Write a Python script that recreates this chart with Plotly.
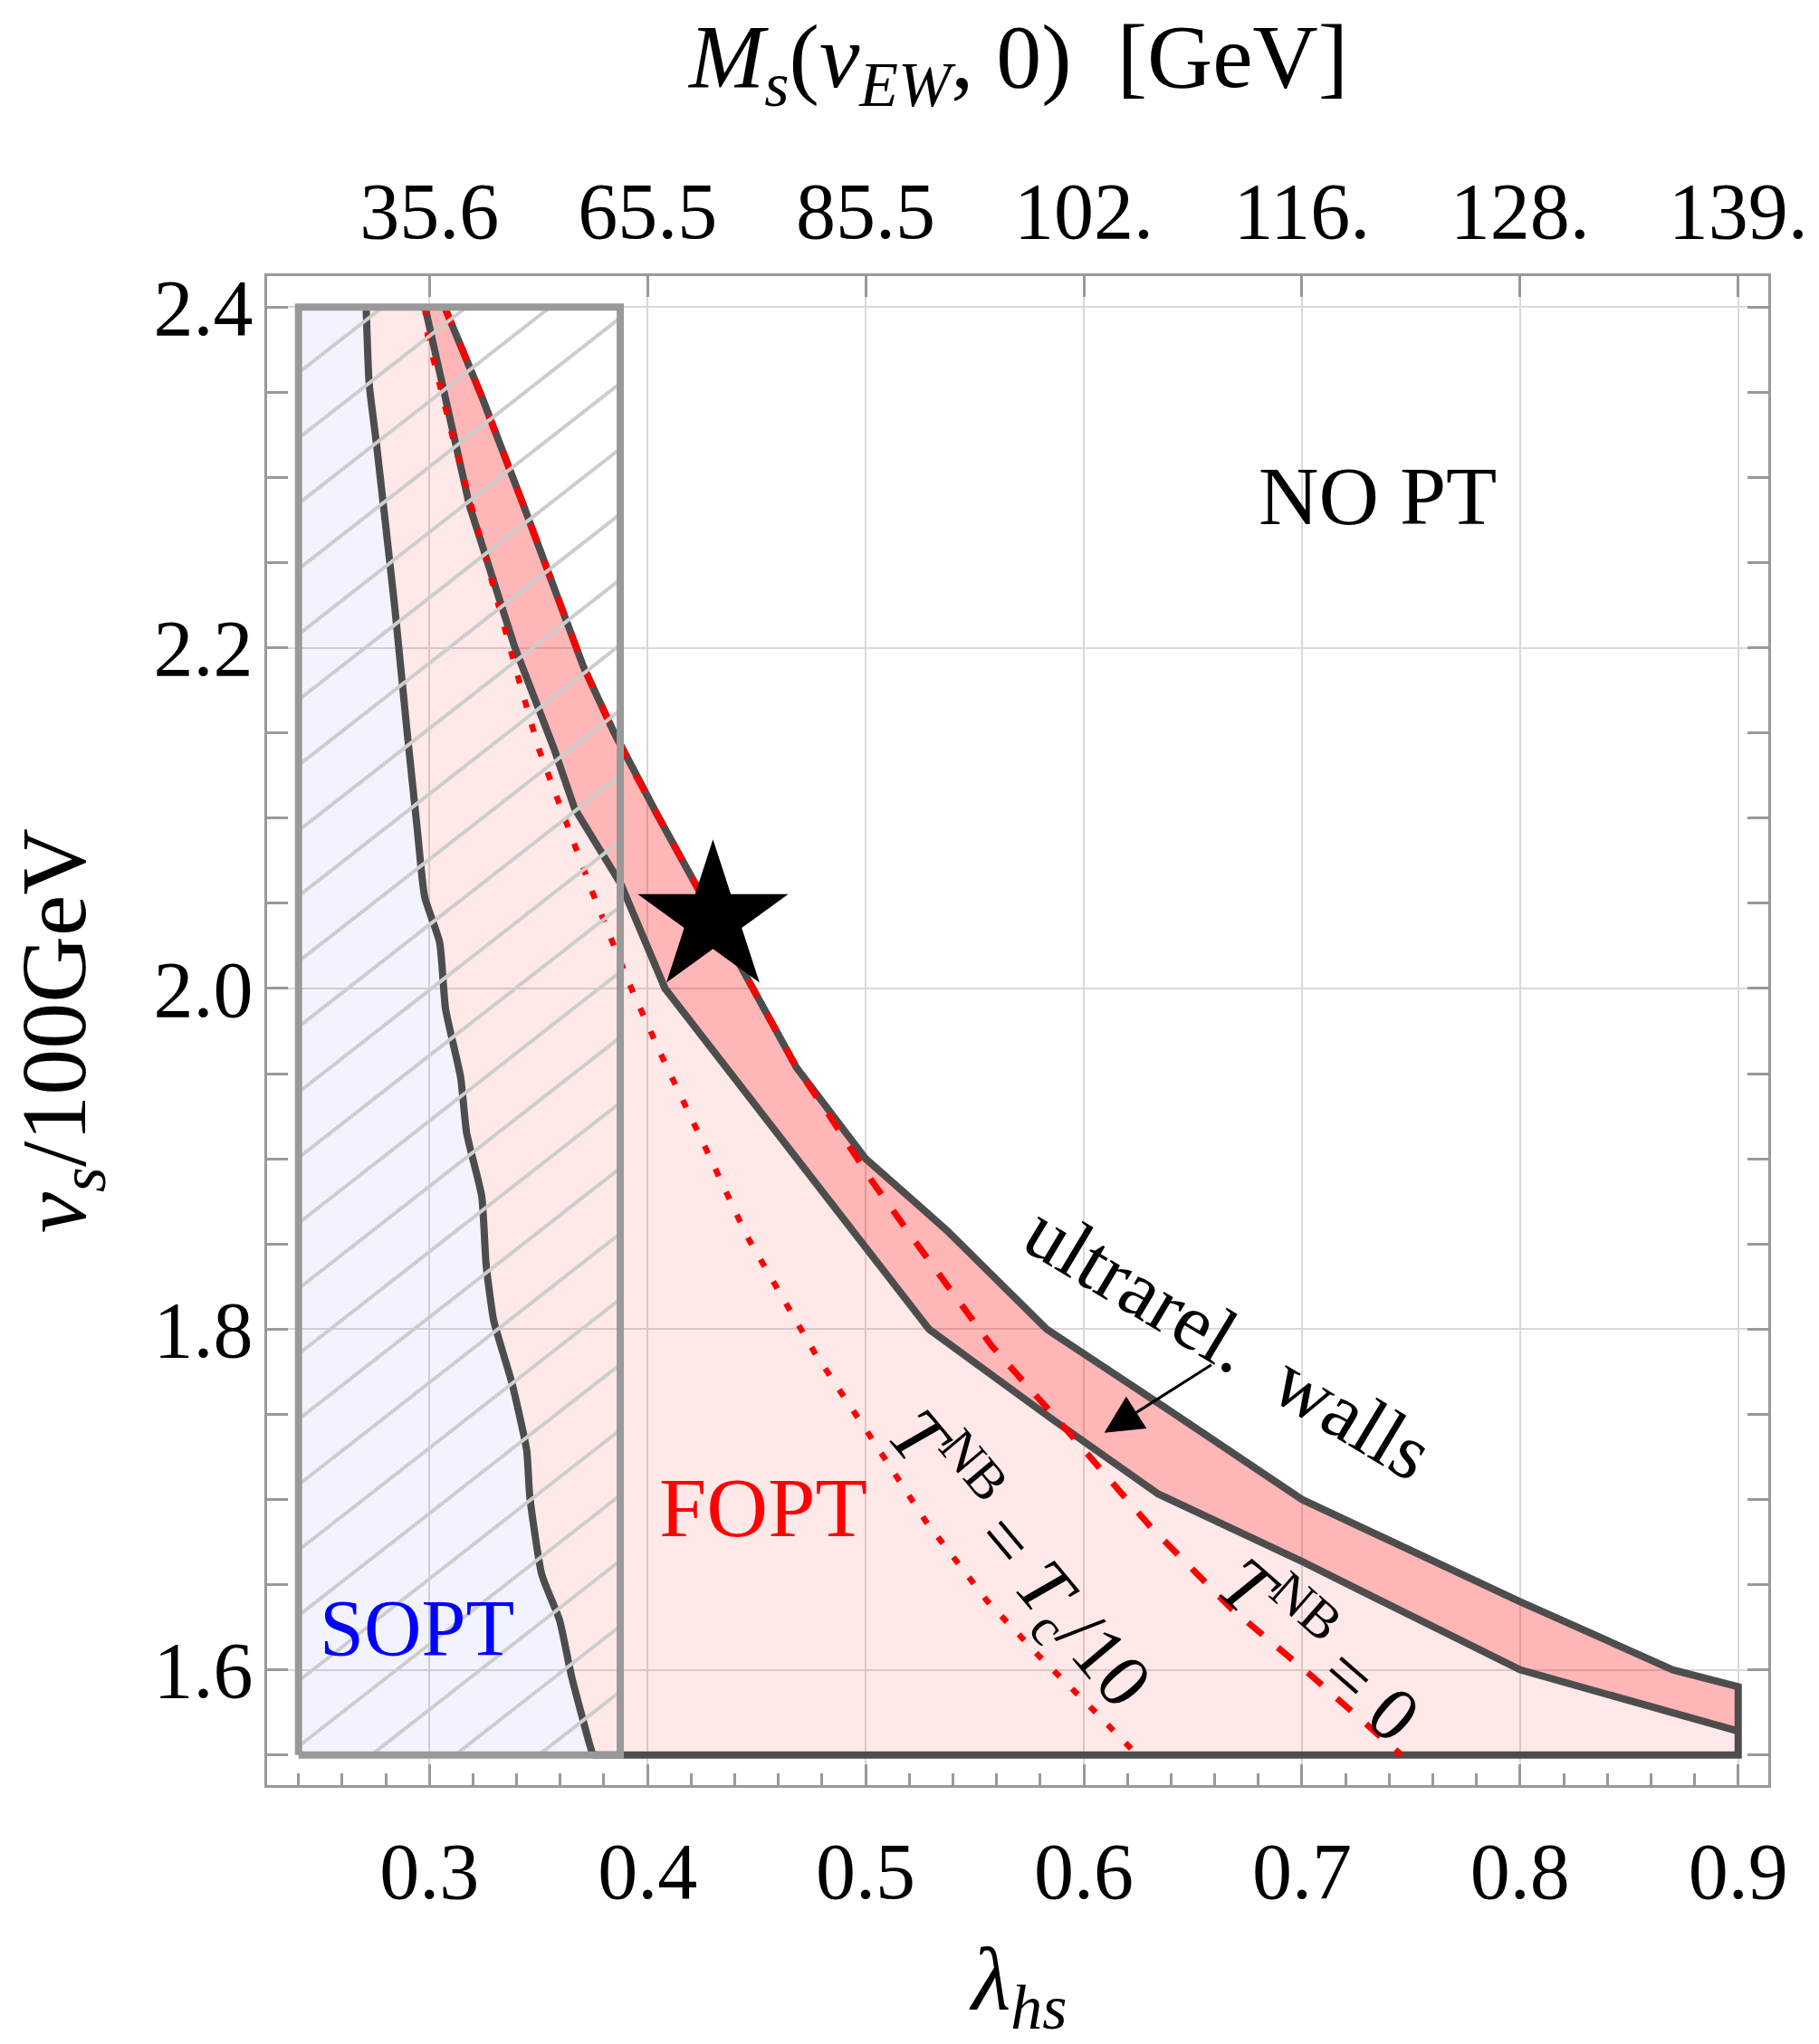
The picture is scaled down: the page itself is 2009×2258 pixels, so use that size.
import numpy as np
import plotly.graph_objects as go

# ---- phase-boundary data in the (lambda_hs, v_s/100GeV) plane ----
# second-order / first-order boundary
lam_sopt = [0.2710, 0.2724, 0.2758, 0.2841, 0.2896, 0.2944, 0.2978, 0.3047, 0.3074,
            0.3143, 0.3171, 0.3240, 0.3260, 0.3295, 0.3377, 0.3446, 0.3460, 0.3515,
            0.3597, 0.3652, 0.3735, 0.3750]
vs_sopt = [2.400, 2.355, 2.319, 2.224, 2.153, 2.094, 2.054, 2.027, 1.988,
           1.948, 1.915, 1.878, 1.838, 1.805, 1.769, 1.729, 1.702, 1.656,
           1.629, 1.596, 1.556, 1.550]

# outer edge of the FOPT region (beyond it: no transition)
lam_outer = [0.3070, 0.3240, 0.3432, 0.3570, 0.3707, 0.3845, 0.3932, 0.4036, 0.4683,
             0.5000, 0.5372, 0.5830, 0.6366, 0.7000, 0.8000, 0.8700, 0.9000]
vs_outer = [2.400, 2.3475, 2.2834, 2.236, 2.1886, 2.1507, 2.1284, 2.104, 1.9535,
            1.900, 1.858, 1.800, 1.7545, 1.700, 1.640, 1.600, 1.590]

# inner edge of the ultra-relativistic wall band
lam_inner = [0.2980, 0.3184, 0.3391, 0.3570, 0.3666, 0.3878, 0.4080, 0.5290, 0.5850,
             0.6340, 0.7000, 0.8000, 0.9000]
vs_inner = [2.400, 2.2834, 2.2005, 2.1412, 2.1056, 2.0612, 2.000, 1.800, 1.7476,
            1.7033, 1.6636, 1.600, 1.564]

# T^NB = T_c/10 contour
lam_tc10 = [0.2980, 0.2992, 0.3102, 0.3280, 0.3404, 0.3500, 0.3625, 0.3749, 0.3918,
            0.4060, 0.4257, 0.4454, 0.4567, 0.4766, 0.5022, 0.5275, 0.5557, 0.5798,
            0.6059, 0.6245]
vs_tc10 = [2.400, 2.383, 2.326, 2.2408, 2.1839, 2.1412, 2.0986, 2.0559, 2.0023,
           1.9617, 1.9088, 1.855, 1.830, 1.7862, 1.7369, 1.6873, 1.6404, 1.6077,
           1.5745, 1.550]

# T^NB = 0 contour
lam_t0 = [0.3070, 0.3240, 0.3432, 0.3570, 0.3707, 0.3845, 0.3932, 0.4036, 0.4683,
          0.4825, 0.5031, 0.5236, 0.5457, 0.5578, 0.5936, 0.6307, 0.6675, 0.7030, 0.7455]
vs_t0 = [2.400, 2.3475, 2.2834, 2.236, 2.1886, 2.1507, 2.1284, 2.104, 1.9535,
         1.9271, 1.8865, 1.8498, 1.8112, 1.7901, 1.7387, 1.6838, 1.6361, 1.5980, 1.550]

# excluded (hatched) window
box_lam = [0.2400, 0.3875]
box_vs = [1.550, 2.400]

# benchmark point
bench_lam = [0.430]
bench_vs = [2.041]

# axis ticks
lam_ticks = [0.3, 0.4, 0.5, 0.6, 0.7, 0.8, 0.9]
ms_labels = ["35.6", "65.5", "85.5", "102.", "116.", "128.", "139."]
vs_ticks = [1.6, 1.8, 2.0, 2.2, 2.4]

X_RANGE = [0.2256, 0.9138]
Y_RANGE = [1.5323, 2.4182]

FONT = "Liberation Serif"
EDGE = "#4d4d4d"
FRAME = "#999999"

fig = go.Figure()

v_floor = box_vs[0]

# FOPT region (light pink)
fig.add_trace(go.Scatter(
    x=lam_outer + [lam_outer[-1]] + lam_sopt[::-1],
    y=vs_outer + [v_floor] + vs_sopt[::-1],
    fill="toself", fillcolor="rgba(255,0,0,0.09)", line=dict(width=0),
    mode="lines", hoverinfo="skip", showlegend=False))

# SOPT region (light blue)
fig.add_trace(go.Scatter(
    x=[box_lam[0]] + lam_sopt + [box_lam[0]],
    y=[box_vs[1]] + vs_sopt + [box_vs[0]],
    fill="toself", fillcolor="rgba(0,0,255,0.047)", line=dict(width=0),
    mode="lines", hoverinfo="skip", showlegend=False))

# ultra-relativistic wall band (darker pink)
fig.add_trace(go.Scatter(
    x=lam_inner + lam_outer[::-1],
    y=vs_inner + vs_outer[::-1],
    fill="toself", fillcolor="rgba(255,0,0,0.215)", line=dict(width=0),
    mode="lines", hoverinfo="skip", showlegend=False))

# region outlines
fig.add_trace(go.Scatter(
    x=lam_outer + [lam_outer[-1], lam_sopt[-1]],
    y=vs_outer + [v_floor, v_floor],
    mode="lines", line=dict(color=EDGE, width=8), hoverinfo="skip", showlegend=False))
fig.add_trace(go.Scatter(x=lam_inner, y=vs_inner, mode="lines",
                         line=dict(color=EDGE, width=8), hoverinfo="skip", showlegend=False))
fig.add_trace(go.Scatter(x=lam_sopt, y=vs_sopt, mode="lines",
                         line=dict(color=EDGE, width=8, shape="spline", smoothing=0.5),
                         hoverinfo="skip", showlegend=False))

# nucleation-temperature contours
fig.add_trace(go.Scatter(x=lam_tc10, y=vs_tc10, mode="lines",
                         line=dict(color="#ff0000", width=6.5, dash="9px,19px"),
                         hoverinfo="skip", showlegend=False))
fig.add_trace(go.Scatter(x=lam_t0, y=vs_t0, mode="lines",
                         line=dict(color="#ff0000", width=7, dash="21px,22px"),
                         hoverinfo="skip", showlegend=False))

# hatching of the excluded window: lines of unit slope in data units
HATCH_STEP = 0.0384
HATCH_OFFSET = 2.1214
x0, x1 = box_lam
y0, y1 = box_vs
c_lo, c_hi = y0 - x1, y1 - x0
k_lo = int(np.floor((c_lo - HATCH_OFFSET) / HATCH_STEP))
k_hi = int(np.ceil((c_hi - HATCH_OFFSET) / HATCH_STEP))
hx, hy = [], []
for k in range(k_lo, k_hi + 1):
    c = HATCH_OFFSET + k * HATCH_STEP
    xa = max(x0, y0 - c)
    xb = min(x1, y1 - c)
    if xb <= xa:
        continue
    hx += [xa, xb, None]
    hy += [xa + c, xb + c, None]
fig.add_trace(go.Scatter(x=hx, y=hy, mode="lines",
                         line=dict(color="#cdcdcd", width=4),
                         hoverinfo="skip", showlegend=False))
fig.add_trace(go.Scatter(
    x=[x0, x1, x1, x0, x0], y=[y0, y0, y1, y1, y0], mode="lines",
    line=dict(color=FRAME, width=8), hoverinfo="skip", showlegend=False))

# benchmark star
fig.add_trace(go.Scatter(x=bench_lam, y=bench_vs, mode="markers",
                         marker=dict(symbol="star", size=125, color="black",
                                     line=dict(width=0)),
                         hoverinfo="skip", showlegend=False))

# carrier for the top (singlet mass) axis
fig.add_trace(go.Scatter(x=lam_ticks, y=[vs_ticks[0]] * len(lam_ticks), xaxis="x2",
                         mode="markers", marker=dict(size=1, opacity=0),
                         hoverinfo="skip", showlegend=False))

tickfont = dict(family=FONT, size=88, color="black")
axis_common = dict(
    ticks="inside", ticklen=23, tickwidth=2.5, tickcolor=FRAME,
    showline=True, linecolor=FRAME, linewidth=3,
    showgrid=True, gridcolor="#d9d9d9", gridwidth=2,
    zeroline=False, tickfont=tickfont,
)

fig.update_layout(
    width=2009, height=2258,
    margin=dict(l=295, r=46, t=305, b=286),
    paper_bgcolor="white", plot_bgcolor="white",
    xaxis=dict(range=X_RANGE, tickvals=lam_ticks, tickformat=".1f", mirror=True,
               minor=dict(ticks="inside", ticklen=13, tickwidth=2.5, tickcolor=FRAME,
                          dtick=0.02, tick0=0.2, showgrid=False),
               ticklabelstandoff=16, **axis_common),
    xaxis2=dict(range=X_RANGE, overlaying="x", side="top", tickvals=lam_ticks,
                ticktext=ms_labels, ticks="inside", ticklen=23, tickwidth=2.5,
                tickcolor=FRAME, showline=False, showgrid=False, zeroline=False,
                tickfont=tickfont, ticklabelstandoff=23),
    yaxis=dict(range=Y_RANGE, tickvals=vs_ticks, tickformat=".1f", mirror="allticks",
               minor=dict(ticks="inside", ticklen=13, tickwidth=2.5, tickcolor=FRAME,
                          dtick=0.05, tick0=1.5, showgrid=False),
               ticklabelstandoff=-5, **axis_common),
)

ann = []
# axis titles
ann.append(dict(xref="paper", yref="paper", x=-0.138, y=0.4997,
                text="<i>v</i><sub><i>s</i></sub>/100GeV", textangle=-90,
                font=dict(family=FONT, size=102, color="black"),
                showarrow=False, xanchor="center", yanchor="middle"))
ann.append(dict(xref="paper", yref="paper", x=0.5006, y=-0.133,
                text="<i>λ</i><sub><i>hs</i></sub>",
                font=dict(family=FONT, size=100, color="black"),
                showarrow=False, xanchor="center", yanchor="middle"))
ann.append(dict(xref="paper", yref="paper", x=0.5, y=1.141,
                text="<i>M</i><sub><i>s</i></sub>(<i>v</i><sub><i>EW</i></sub>, 0)  [GeV]",
                font=dict(family=FONT, size=100, color="black"),
                showarrow=False, xanchor="center", yanchor="middle"))

# region labels
ann.append(dict(x=0.7345, y=2.2893, text="NO PT", showarrow=False,
                font=dict(family=FONT, size=92, color="black")))
ann.append(dict(x=0.453, y=1.6953, text="FOPT", showarrow=False,
                font=dict(family=FONT, size=94, color="#ff0000")))
ann.append(dict(x=0.2943, y=1.6247, text="SOPT", showarrow=False,
                font=dict(family=FONT, size=88, color="#0000ff")))
ann.append(dict(x=0.6663, y=1.7924, text="ultrarel.\u00a0\u00a0walls", textangle=31,
                showarrow=False, font=dict(family=FONT, size=88, color="black")))
ann.append(dict(x=0.571, y=1.6656,
                text="<i>T</i><sup>NB</sup> = <i>T</i><sub>c</sub>/10", textangle=50,
                showarrow=False, font=dict(family=FONT, size=84, color="black")))
ann.append(dict(x=0.71, y=1.6146, text="<i>T</i><sup>NB</sup> = 0", textangle=41,
                showarrow=False, font=dict(family=FONT, size=84, color="black")))

# arrow pointing into the wall band
ann.append(dict(x=0.6094, y=1.7391, ax=0.6591, ay=1.7795, axref="x", ayref="y",
                text="", showarrow=True, arrowhead=2, arrowsize=2.8, arrowwidth=3,
                arrowcolor="black"))

fig.update_layout(annotations=ann)

fig.write_html("out.html")
